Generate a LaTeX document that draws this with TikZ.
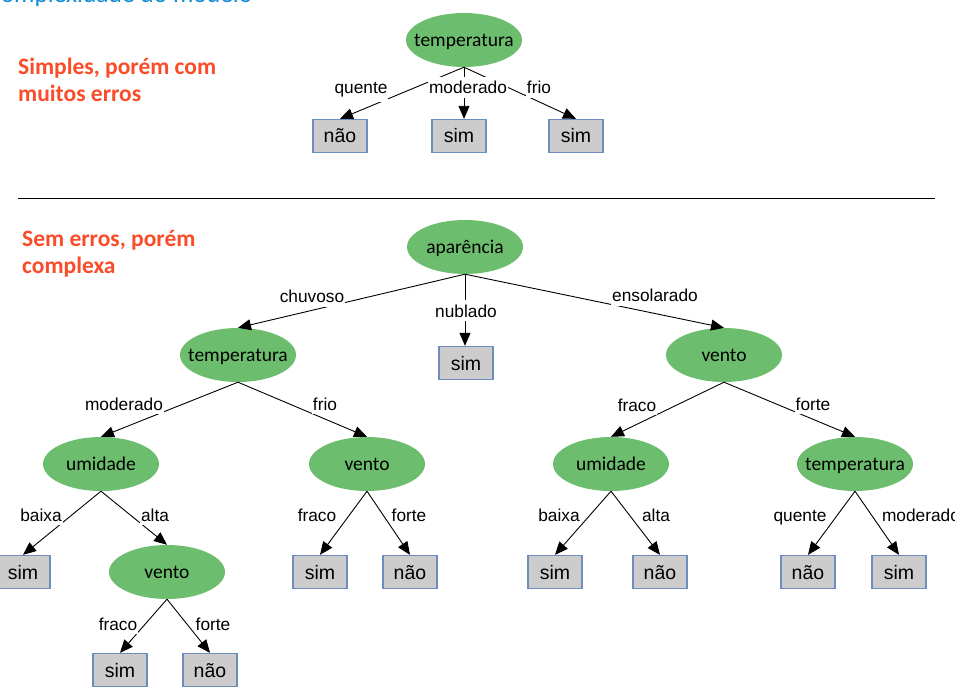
\documentclass[tikz,border=0pt]{standalone}
\usepackage{fontspec}
\setmainfont{Liberation Sans}
\newfontfamily\carl{Carlito}
\usetikzlibrary{shapes.geometric,arrows.meta}
\definecolor{leafgreen}{RGB}{108,190,110}
\definecolor{boxgray}{RGB}{204,204,204}
\definecolor{boxblue}{RGB}{108,142,191}
\definecolor{titlered}{RGB}{250,76,40}
\definecolor{titleblue}{RGB}{20,140,210}
\newcommand\elab[1]{\makebox[0pt]{#1}}
\tikzset{
  attr/.style={ellipse, fill=leafgreen, minimum width=116pt, minimum height=54pt,
    inner sep=0pt, font=\carl\fontsize{19.5}{22}\selectfont, text height=13pt, text depth=0pt},
  leaf/.style={rectangle, draw=boxblue, line width=1.3pt, fill=boxgray,
    minimum width=54pt, minimum height=33pt, inner sep=0pt,
    font=\fontsize{19.5}{22}\selectfont, text height=14pt, text depth=0pt},
  elbl/.style={fill=white, inner xsep=1pt, inner ysep=4pt,
    font=\fontsize{17.3}{20}\selectfont, anchor=base},
  edge/.style={-{Triangle[length=13pt,width=11pt]}, line width=0.9pt, black},
  heading/.style={font=\carl\bfseries\fontsize{23.5}{28}\selectfont, text=titlered,
    anchor=base west, inner sep=0pt},
  sepline/.style={line width=1pt, black}
}
\begin{document}
\begin{tikzpicture}[x=1pt,y=-1pt]
\useasboundingbox (0,0) rectangle (955,692);
\fill[white] (0,0) rectangle (955,692);

% title (cut off at the top, as in the reference)
\node[font=\carl\fontsize{25.5}{28}\selectfont, text=titleblue, anchor=base west, inner sep=0pt]
  (title) at (-13,3) {Complexidade do modelo};

% headings
\node[heading] (h1a) at (18,75) {Simples, porém com};
\node[heading] (h1b) at (18,102) {muitos erros};
\node[heading] (h2a) at (22,247) {Sem erros, porém};
\node[heading] (h2b) at (22,274) {complexa};

% separator
\coordinate (sepL) at (18,199);
\coordinate (sepR) at (935,199);
\draw[sepline] (sepL) -- (sepR);

% ---------- top tree ----------
\node[attr] (t0) at (464,40) {\elab{temperatura}};
\node[leaf] (b1) at (340,136) {não};
\node[leaf] (b2) at (459,136) {sim};
\node[leaf] (b3) at (576,136) {sim};
\draw[edge] (t0.south) -- (b1.north);
\draw[edge] (t0.south) -- (t0.south |- b2.north);
\draw[edge] (t0.south) -- (b3.north);
\node[elbl] (lq) at (361,94) {quente};
\node[elbl] (lm) at (468,94) {moderado};
\node[elbl] (lf) at (539,94) {frio};

% ---------- bottom tree ----------
\node[attr] (a0) at (465,247) {\elab{aparência}};
\node[attr] (tL) at (238,355) {\elab{temperatura}};
\node[leaf] (sN) at (466,363) {sim};
\node[attr] (vR) at (724,355) {\elab{vento}};
\node[attr] (uL) at (101,464) {\elab{umidade}};
\node[attr] (vM) at (367,464) {\elab{vento}};
\node[attr] (uR) at (611,464) {\elab{umidade}};
\node[attr] (tR) at (855,464) {\elab{temperatura}};
\node[leaf] (s1) at (23,572) {sim};
\node[attr] (vL) at (167,572) {\elab{vento}};
\node[leaf] (s2) at (320,572) {sim};
\node[leaf] (n2) at (410,572) {não};
\node[leaf] (s3) at (555,572) {sim};
\node[leaf] (n3) at (660,572) {não};
\node[leaf] (n4) at (808,572) {não};
\node[leaf] (s4) at (899,572) {sim};
\node[leaf] (s5) at (120,670) {sim};
\node[leaf] (n5) at (210,670) {não};

\draw[edge] (a0.south) -- (tL.north);
\draw[edge] (a0.south) -- (a0.south |- sN.north);
\draw[edge] (a0.south) -- (vR.north);
\draw[edge] (tL.south) -- (uL.north);
\draw[edge] (tL.south) -- (vM.north);
\draw[edge] (vR.south) -- (uR.north);
\draw[edge] (vR.south) -- (tR.north);
\draw[edge] (uL.south) -- (s1.north);
\draw[edge] (uL.south) -- (vL.north);
\draw[edge] (vM.south) -- (s2.north);
\draw[edge] (vM.south) -- (n2.north);
\draw[edge] (uR.south) -- (s3.north);
\draw[edge] (uR.south) -- (n3.north);
\draw[edge] (tR.south) -- (n4.north);
\draw[edge] (tR.south) -- (s4.north);
\draw[edge] (vL.south) -- (s5.north);
\draw[edge] (vL.south) -- (n5.north);

\node[elbl] (lchu) at (312,303) {chuvoso};
\node[elbl] (lnub) at (466,317) {nublado};
\node[elbl] (lens) at (655,302) {ensolarado};
\node[elbl] (lmod1) at (124,410) {moderado};
\node[elbl] (lfri1) at (325,410) {frio};
\node[elbl] (lfra1) at (637,411) {fraco};
\node[elbl] (lfor1) at (813,410) {forte};
\node[elbl] (lbai1) at (41,521) {baixa};
\node[elbl] (lalt1) at (155,521) {alta};
\node[elbl] (lfra2) at (317,521) {fraco};
\node[elbl] (lfor2) at (409,521) {forte};
\node[elbl] (lbai2) at (559,521) {baixa};
\node[elbl] (lalt2) at (656,521) {alta};
\node[elbl] (lque2) at (800,521) {quente};
\node[elbl] (lmod2) at (921,521) {moderado};
\node[elbl] (lfra3) at (118,630) {fraco};
\node[elbl] (lfor3) at (213,630) {forte};
\end{tikzpicture}
\end{document}
